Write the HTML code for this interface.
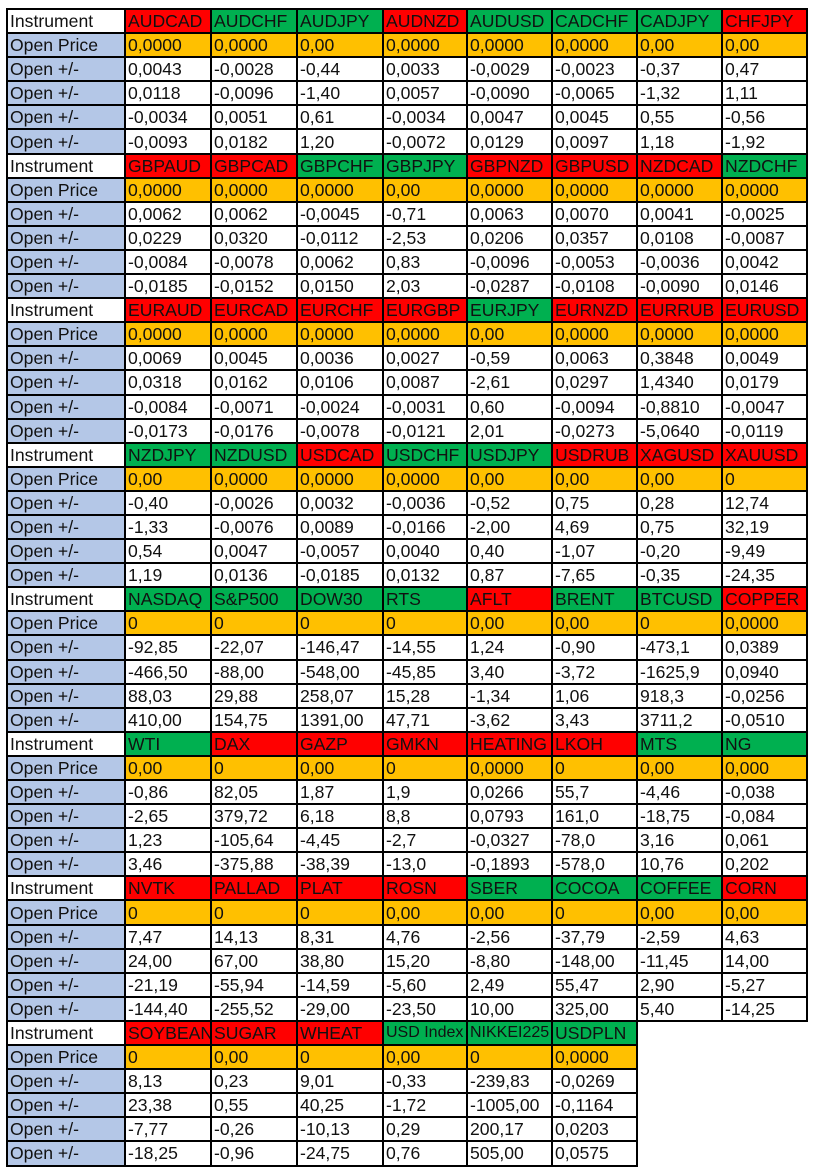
<!DOCTYPE html>
<html><head><meta charset="utf-8"><style>
body{margin:0;background:#fff;width:813px;height:1171px;overflow:hidden}
table{position:absolute;left:6px;top:8px;width:800px;border-collapse:collapse;table-layout:fixed;font-family:"Liberation Sans",Arial,sans-serif;font-size:17.6px;color:#111}
td{border:2px solid #000;padding:0 0 0 2px;height:20.1px;line-height:20px;white-space:nowrap;overflow:hidden}
tr{height:24.1px}
td.l{background:#b4c7e7}
tr.h td.l{background:#fff}
.r{background:#ff0000}.g{background:#00b050}.o{background:#ffc000}
td.e{border:none}
td.s{font-size:16px}
</style></head><body>
<table>
<colgroup><col style="width:118px"><col style="width:86px"><col style="width:86px"><col style="width:86px"><col style="width:84px"><col style="width:85px"><col style="width:85px"><col style="width:85px"><col style="width:85px"></colgroup>
<tr class="h"><td class="l">Instrument</td><td class="r">AUDCAD</td><td class="g">AUDCHF</td><td class="g">AUDJPY</td><td class="r">AUDNZD</td><td class="g">AUDUSD</td><td class="g">CADCHF</td><td class="g">CADJPY</td><td class="r">CHFJPY</td></tr>
<tr><td class="l">Open Price</td><td class="o">0,0000</td><td class="o">0,0000</td><td class="o">0,00</td><td class="o">0,0000</td><td class="o">0,0000</td><td class="o">0,0000</td><td class="o">0,00</td><td class="o">0,00</td></tr>
<tr><td class="l">Open +/-</td><td>0,0043</td><td>-0,0028</td><td>-0,44</td><td>0,0033</td><td>-0,0029</td><td>-0,0023</td><td>-0,37</td><td>0,47</td></tr>
<tr><td class="l">Open +/-</td><td>0,0118</td><td>-0,0096</td><td>-1,40</td><td>0,0057</td><td>-0,0090</td><td>-0,0065</td><td>-1,32</td><td>1,11</td></tr>
<tr><td class="l">Open +/-</td><td>-0,0034</td><td>0,0051</td><td>0,61</td><td>-0,0034</td><td>0,0047</td><td>0,0045</td><td>0,55</td><td>-0,56</td></tr>
<tr><td class="l">Open +/-</td><td>-0,0093</td><td>0,0182</td><td>1,20</td><td>-0,0072</td><td>0,0129</td><td>0,0097</td><td>1,18</td><td>-1,92</td></tr>
<tr class="h"><td class="l">Instrument</td><td class="r">GBPAUD</td><td class="r">GBPCAD</td><td class="g">GBPCHF</td><td class="g">GBPJPY</td><td class="r">GBPNZD</td><td class="r">GBPUSD</td><td class="r">NZDCAD</td><td class="g">NZDCHF</td></tr>
<tr><td class="l">Open Price</td><td class="o">0,0000</td><td class="o">0,0000</td><td class="o">0,0000</td><td class="o">0,00</td><td class="o">0,0000</td><td class="o">0,0000</td><td class="o">0,0000</td><td class="o">0,0000</td></tr>
<tr><td class="l">Open +/-</td><td>0,0062</td><td>0,0062</td><td>-0,0045</td><td>-0,71</td><td>0,0063</td><td>0,0070</td><td>0,0041</td><td>-0,0025</td></tr>
<tr><td class="l">Open +/-</td><td>0,0229</td><td>0,0320</td><td>-0,0112</td><td>-2,53</td><td>0,0206</td><td>0,0357</td><td>0,0108</td><td>-0,0087</td></tr>
<tr><td class="l">Open +/-</td><td>-0,0084</td><td>-0,0078</td><td>0,0062</td><td>0,83</td><td>-0,0096</td><td>-0,0053</td><td>-0,0036</td><td>0,0042</td></tr>
<tr><td class="l">Open +/-</td><td>-0,0185</td><td>-0,0152</td><td>0,0150</td><td>2,03</td><td>-0,0287</td><td>-0,0108</td><td>-0,0090</td><td>0,0146</td></tr>
<tr class="h"><td class="l">Instrument</td><td class="r">EURAUD</td><td class="r">EURCAD</td><td class="r">EURCHF</td><td class="r">EURGBP</td><td class="g">EURJPY</td><td class="r">EURNZD</td><td class="r">EURRUB</td><td class="r">EURUSD</td></tr>
<tr><td class="l">Open Price</td><td class="o">0,0000</td><td class="o">0,0000</td><td class="o">0,0000</td><td class="o">0,0000</td><td class="o">0,00</td><td class="o">0,0000</td><td class="o">0,0000</td><td class="o">0,0000</td></tr>
<tr><td class="l">Open +/-</td><td>0,0069</td><td>0,0045</td><td>0,0036</td><td>0,0027</td><td>-0,59</td><td>0,0063</td><td>0,3848</td><td>0,0049</td></tr>
<tr><td class="l">Open +/-</td><td>0,0318</td><td>0,0162</td><td>0,0106</td><td>0,0087</td><td>-2,61</td><td>0,0297</td><td>1,4340</td><td>0,0179</td></tr>
<tr><td class="l">Open +/-</td><td>-0,0084</td><td>-0,0071</td><td>-0,0024</td><td>-0,0031</td><td>0,60</td><td>-0,0094</td><td>-0,8810</td><td>-0,0047</td></tr>
<tr><td class="l">Open +/-</td><td>-0,0173</td><td>-0,0176</td><td>-0,0078</td><td>-0,0121</td><td>2,01</td><td>-0,0273</td><td>-5,0640</td><td>-0,0119</td></tr>
<tr class="h"><td class="l">Instrument</td><td class="g">NZDJPY</td><td class="g">NZDUSD</td><td class="r">USDCAD</td><td class="g">USDCHF</td><td class="g">USDJPY</td><td class="r">USDRUB</td><td class="r">XAGUSD</td><td class="r">XAUUSD</td></tr>
<tr><td class="l">Open Price</td><td class="o">0,00</td><td class="o">0,0000</td><td class="o">0,0000</td><td class="o">0,0000</td><td class="o">0,00</td><td class="o">0,00</td><td class="o">0,00</td><td class="o">0</td></tr>
<tr><td class="l">Open +/-</td><td>-0,40</td><td>-0,0026</td><td>0,0032</td><td>-0,0036</td><td>-0,52</td><td>0,75</td><td>0,28</td><td>12,74</td></tr>
<tr><td class="l">Open +/-</td><td>-1,33</td><td>-0,0076</td><td>0,0089</td><td>-0,0166</td><td>-2,00</td><td>4,69</td><td>0,75</td><td>32,19</td></tr>
<tr><td class="l">Open +/-</td><td>0,54</td><td>0,0047</td><td>-0,0057</td><td>0,0040</td><td>0,40</td><td>-1,07</td><td>-0,20</td><td>-9,49</td></tr>
<tr><td class="l">Open +/-</td><td>1,19</td><td>0,0136</td><td>-0,0185</td><td>0,0132</td><td>0,87</td><td>-7,65</td><td>-0,35</td><td>-24,35</td></tr>
<tr class="h"><td class="l">Instrument</td><td class="g">NASDAQ</td><td class="g">S&amp;P500</td><td class="g">DOW30</td><td class="g">RTS</td><td class="r">AFLT</td><td class="g">BRENT</td><td class="g">BTCUSD</td><td class="r">COPPER</td></tr>
<tr><td class="l">Open Price</td><td class="o">0</td><td class="o">0</td><td class="o">0</td><td class="o">0</td><td class="o">0,00</td><td class="o">0,00</td><td class="o">0</td><td class="o">0,0000</td></tr>
<tr><td class="l">Open +/-</td><td>-92,85</td><td>-22,07</td><td>-146,47</td><td>-14,55</td><td>1,24</td><td>-0,90</td><td>-473,1</td><td>0,0389</td></tr>
<tr><td class="l">Open +/-</td><td>-466,50</td><td>-88,00</td><td>-548,00</td><td>-45,85</td><td>3,40</td><td>-3,72</td><td>-1625,9</td><td>0,0940</td></tr>
<tr><td class="l">Open +/-</td><td>88,03</td><td>29,88</td><td>258,07</td><td>15,28</td><td>-1,34</td><td>1,06</td><td>918,3</td><td>-0,0256</td></tr>
<tr><td class="l">Open +/-</td><td>410,00</td><td>154,75</td><td>1391,00</td><td>47,71</td><td>-3,62</td><td>3,43</td><td>3711,2</td><td>-0,0510</td></tr>
<tr class="h"><td class="l">Instrument</td><td class="g">WTI</td><td class="r">DAX</td><td class="r">GAZP</td><td class="r">GMKN</td><td class="r">HEATING</td><td class="r">LKOH</td><td class="g">MTS</td><td class="g">NG</td></tr>
<tr><td class="l">Open Price</td><td class="o">0,00</td><td class="o">0</td><td class="o">0,00</td><td class="o">0</td><td class="o">0,0000</td><td class="o">0</td><td class="o">0,00</td><td class="o">0,000</td></tr>
<tr><td class="l">Open +/-</td><td>-0,86</td><td>82,05</td><td>1,87</td><td>1,9</td><td>0,0266</td><td>55,7</td><td>-4,46</td><td>-0,038</td></tr>
<tr><td class="l">Open +/-</td><td>-2,65</td><td>379,72</td><td>6,18</td><td>8,8</td><td>0,0793</td><td>161,0</td><td>-18,75</td><td>-0,084</td></tr>
<tr><td class="l">Open +/-</td><td>1,23</td><td>-105,64</td><td>-4,45</td><td>-2,7</td><td>-0,0327</td><td>-78,0</td><td>3,16</td><td>0,061</td></tr>
<tr><td class="l">Open +/-</td><td>3,46</td><td>-375,88</td><td>-38,39</td><td>-13,0</td><td>-0,1893</td><td>-578,0</td><td>10,76</td><td>0,202</td></tr>
<tr class="h"><td class="l">Instrument</td><td class="r">NVTK</td><td class="r">PALLAD</td><td class="r">PLAT</td><td class="r">ROSN</td><td class="g">SBER</td><td class="g">COCOA</td><td class="g">COFFEE</td><td class="r">CORN</td></tr>
<tr><td class="l">Open Price</td><td class="o">0</td><td class="o">0</td><td class="o">0</td><td class="o">0,00</td><td class="o">0,00</td><td class="o">0</td><td class="o">0,00</td><td class="o">0,00</td></tr>
<tr><td class="l">Open +/-</td><td>7,47</td><td>14,13</td><td>8,31</td><td>4,76</td><td>-2,56</td><td>-37,79</td><td>-2,59</td><td>4,63</td></tr>
<tr><td class="l">Open +/-</td><td>24,00</td><td>67,00</td><td>38,80</td><td>15,20</td><td>-8,80</td><td>-148,00</td><td>-11,45</td><td>14,00</td></tr>
<tr><td class="l">Open +/-</td><td>-21,19</td><td>-55,94</td><td>-14,59</td><td>-5,60</td><td>2,49</td><td>55,47</td><td>2,90</td><td>-5,27</td></tr>
<tr><td class="l">Open +/-</td><td>-144,40</td><td>-255,52</td><td>-29,00</td><td>-23,50</td><td>10,00</td><td>325,00</td><td>5,40</td><td>-14,25</td></tr>
<tr class="h"><td class="l">Instrument</td><td class="r">SOYBEAN</td><td class="r">SUGAR</td><td class="r">WHEAT</td><td class="g s">USD Index</td><td class="g s">NIKKEI225</td><td class="g">USDPLN</td><td class="e"></td><td class="e"></td></tr>
<tr><td class="l">Open Price</td><td class="o">0</td><td class="o">0,00</td><td class="o">0</td><td class="o">0,00</td><td class="o">0</td><td class="o">0,0000</td><td class="e"></td><td class="e"></td></tr>
<tr><td class="l">Open +/-</td><td>8,13</td><td>0,23</td><td>9,01</td><td>-0,33</td><td>-239,83</td><td>-0,0269</td><td class="e"></td><td class="e"></td></tr>
<tr><td class="l">Open +/-</td><td>23,38</td><td>0,55</td><td>40,25</td><td>-1,72</td><td>-1005,00</td><td>-0,1164</td><td class="e"></td><td class="e"></td></tr>
<tr><td class="l">Open +/-</td><td>-7,77</td><td>-0,26</td><td>-10,13</td><td>0,29</td><td>200,17</td><td>0,0203</td><td class="e"></td><td class="e"></td></tr>
<tr><td class="l">Open +/-</td><td>-18,25</td><td>-0,96</td><td>-24,75</td><td>0,76</td><td>505,00</td><td>0,0575</td><td class="e"></td><td class="e"></td></tr>
</table>
</body></html>
